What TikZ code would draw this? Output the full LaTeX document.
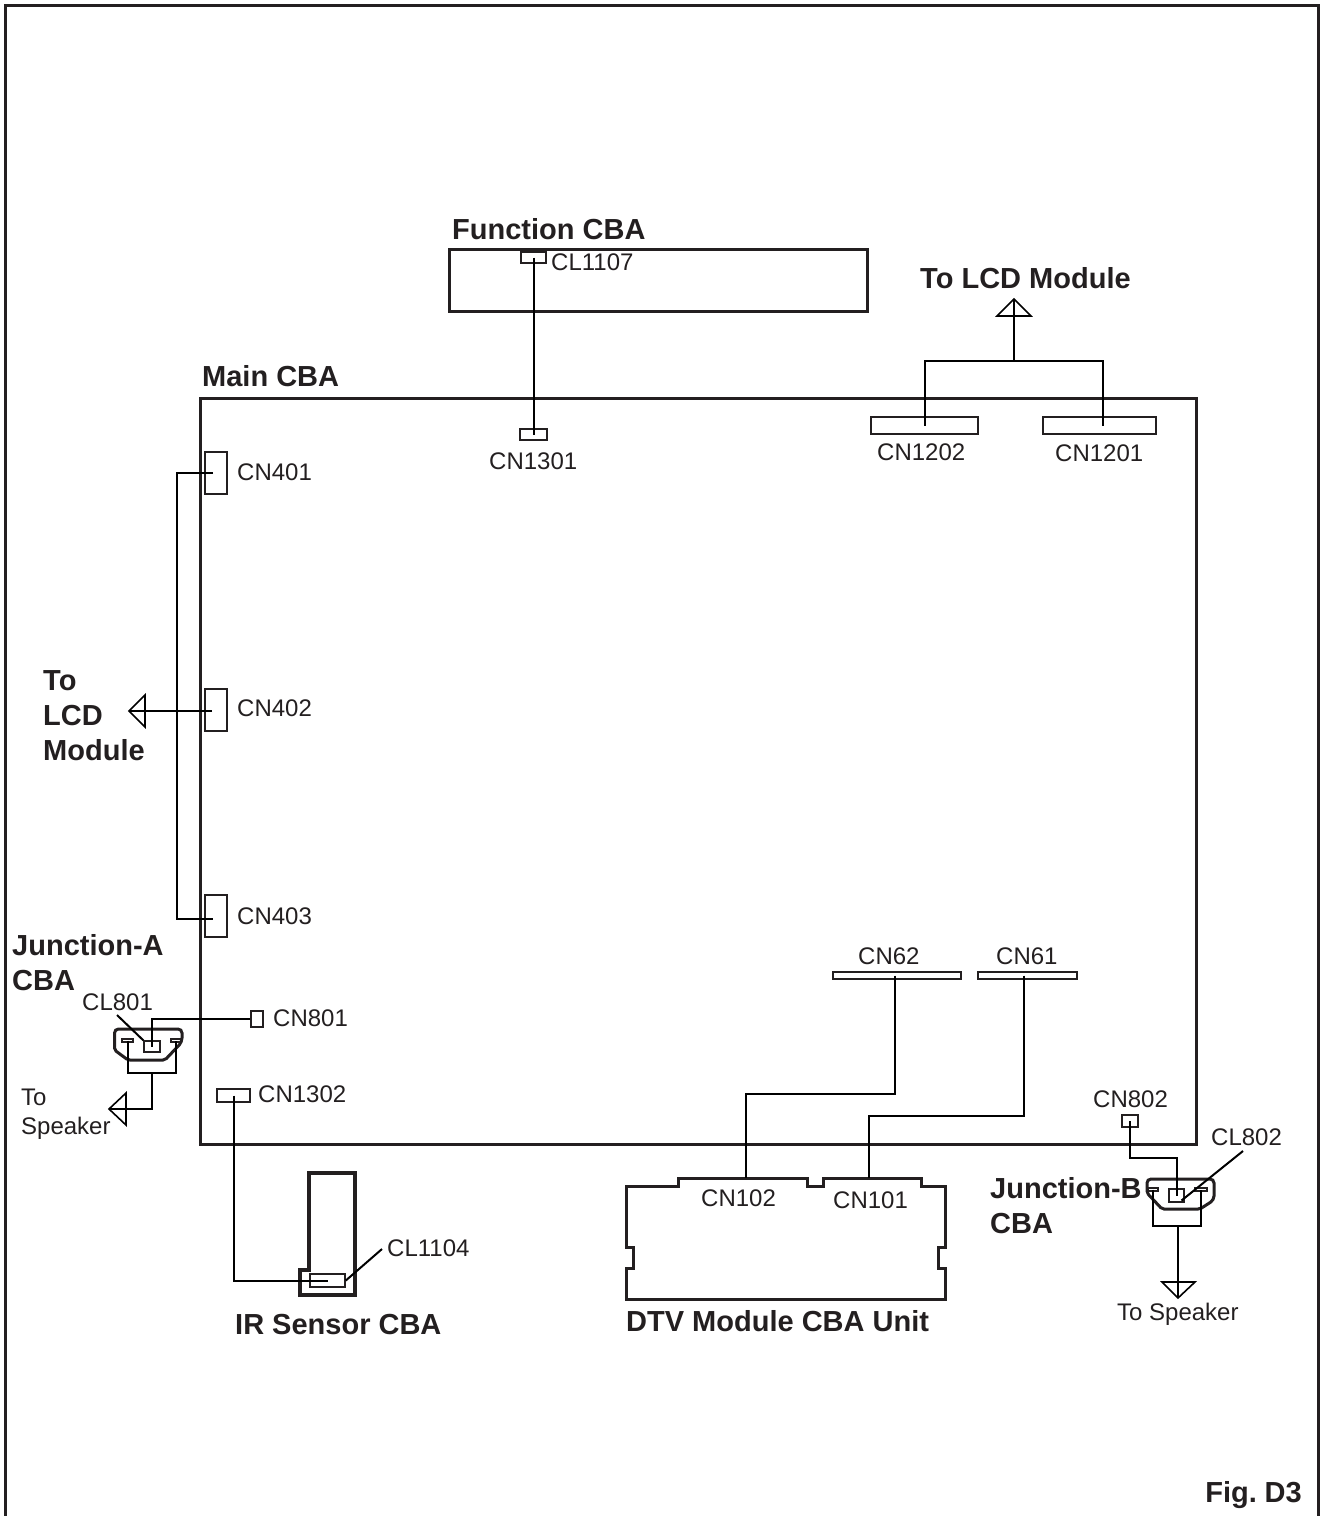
\documentclass[tikz,border=0pt]{standalone}
\usepackage{fontspec}
\setmainfont{Liberation Sans}
\definecolor{ink}{HTML}{231F20}
\tikzset{
  wire/.style = {black, line width = 2pt},
  opentip/.style = {black, line width = 1.6pt, line join = miter},
  outline/.style = {ink, line width = 3pt, line join = miter},
  board/.style = {draw = ink, line width = 3pt, inner sep = 0pt},
  conn/.style = {draw = ink, line width = 1.6pt, inner sep = 0pt},
  connbold/.style = {draw = ink, line width = 2.6pt, inner sep = 0pt},
  lbl/.style = {ink, inner sep = 0pt, anchor = west, text height = 17pt, text depth = 0pt, font = \fontsize{24}{24}\selectfont},
  title/.style = {ink, inner sep = 0pt, anchor = west, text height = 21pt, text depth = 0pt, font = \fontsize{29}{29}\bfseries\selectfont}
}
\begin{document}
  \begin{tikzpicture}[x = 1pt, y = -1pt]

    \useasboundingbox (0, 0) rectangle (1320, 1516);
    \draw[outline] (5.5, 1516) -- (5.5, 5.5) -- (1318, 5.5) -- (1318, 1516);

    \node[board, minimum width = 996pt, minimum height = 746pt] (maincba) at (698, 771) {};
    \node[board, minimum width = 418pt, minimum height = 62pt] (funccba) at (658, 280) {};

    \node[conn, minimum width = 25pt, minimum height = 11pt] (cl1107) at (533.5, 257.5) {};
    \node[conn, minimum width = 27pt, minimum height = 11pt] (cn1301) at (533.5, 434.5) {};
    \node[connbold, minimum width = 107pt, minimum height = 17pt] (cn1202) at (924.5, 425.5) {};
    \node[connbold, minimum width = 113pt, minimum height = 17pt] (cn1201) at (1099.5, 425.5) {};
    \node[conn, minimum width = 22pt, minimum height = 42pt] (cn401) at (216, 473) {};
    \node[conn, minimum width = 22pt, minimum height = 42pt] (cn402) at (216, 710) {};
    \node[conn, minimum width = 22pt, minimum height = 42pt] (cn403) at (216, 916) {};
    \node[conn, minimum width = 12pt, minimum height = 16pt] (cn801) at (257, 1019) {};
    \node[conn, minimum width = 33pt, minimum height = 13pt] (cn1302) at (233.5, 1095.5) {};
    \node[conn, minimum width = 128pt, minimum height = 7pt] (cn62) at (897, 975.5) {};
    \node[conn, minimum width = 99pt, minimum height = 7pt] (cn61) at (1027.5, 975.5) {};
    \node[conn, minimum width = 16pt, minimum height = 12pt] (cn802) at (1130, 1121) {};

    \node[title] (tfunc) at (452, 229) {Function CBA};
    \node[title] (tmain) at (202, 376) {Main CBA};
    \node[title] (tlcd) at (920, 278) {To LCD Module};
    \node[title] (tlcdto) at (43, 680) {To};
    \node[title] (tlcdmid) at (43, 715) {LCD};
    \node[title] (tlcdmod) at (43, 750) {Module};
    \node[title] (tja) at (12, 945) {Junction-A};
    \node[title] (tjacba) at (12, 980) {CBA};
    \node[title] (tjb) at (990, 1188) {Junction-B};
    \node[title] (tjbcba) at (990, 1223) {CBA};
    \node[title] (tir) at (235, 1324) {IR Sensor CBA};
    \node[title] (tdtv) at (626, 1321) {DTV Module CBA Unit};
    \node[title, anchor = east] (tfig) at (1302, 1492) {Fig.\kern-3pt{} D3};

    \node[lbl] (lcl1107) at (551, 262) {CL1107};
    \node[lbl] (lcn1301) at (489, 461) {CN1301};
    \node[lbl] (lcn1202) at (877, 452) {CN1202};
    \node[lbl] (lcn1201) at (1055, 453) {CN1201};
    \node[lbl] (lcn401) at (237, 472) {CN401};
    \node[lbl] (lcn402) at (237, 708) {CN402};
    \node[lbl] (lcn403) at (237, 916) {CN403};
    \node[lbl] (lcl801) at (82, 1002) {CL801};
    \node[lbl] (lcn801) at (273, 1018) {CN801};
    \node[lbl] (lcn1302) at (258, 1094) {CN1302};
    \node[lbl] (lto) at (21, 1097) {To};
    \node[lbl] (lspk) at (21, 1126) {Speaker};
    \node[lbl] (lcl1104) at (387, 1248) {CL1104};
    \node[lbl] (lcn62) at (858, 956) {CN62};
    \node[lbl] (lcn61) at (996, 956) {CN61};
    \node[lbl] (lcn102) at (701, 1198) {CN102};
    \node[lbl] (lcn101) at (833, 1200) {CN101};
    \node[lbl] (lcn802) at (1093, 1099) {CN802};
    \node[lbl] (lcl802) at (1211, 1137) {CL802};
    \node[lbl] (ltospk) at (1117, 1312) {To Speaker};

    \draw[wire] (cl1107.center) -- (cn1301.center);

    \coordinate (lcdjoin) at (1014, 361);
    \coordinate (lcdtip) at (1014, 299);
    \draw[wire] (cn1202.center) -- ++(0, -64.5) -| ([xshift = 3.5pt]cn1201.center);
    \draw[wire] (lcdjoin) -- (lcdtip);
    \draw[opentip] (lcdtip) -- +(-17, 17) -- +(17, 17) -- cycle;

    \coordinate (lcdbus) at (177, 700);
    \coordinate (lcdlefttip) at (129, 711);
    \draw[wire] ([xshift = -3pt]cn401.center) -| (lcdbus) |- ([xshift = -3pt, yshift = -3pt]cn403.center);
    \draw[wire] ([xshift = -4pt, yshift = -1pt]cn402.center) -- (lcdlefttip);
    \draw[opentip] (lcdlefttip) -- +(16, -16) -- +(16, 16) -- cycle;

    \draw[outline, rounded corners = 4pt] (114.5, 1040) -- (114.5, 1029) -- (182, 1029) -- (182, 1042) [rounded corners = 2pt] -- (165, 1060) -- (128, 1060) -- (114.5, 1050) -- cycle;
    \node[conn, line width = 1.2pt, minimum width = 16pt, minimum height = 11pt] (cl801) at (152, 1046.5) {};
    \node[conn, line width = 1.2pt, minimum width = 11pt, minimum height = 3pt] (japinl) at (127.5, 1040.5) {};
    \node[conn, line width = 1.2pt, minimum width = 10pt, minimum height = 3pt] (japinr) at (176, 1040.5) {};
    \coordinate (jajoin) at (152, 1073);
    \coordinate (jatip) at (109, 1109);
    \coordinate (jaleader) at (117, 1015);
    \draw[wire] (cl801.center) |- (cn801.west);
    \draw[wire] (jaleader) -- (cl801.north west);
    \draw[wire] (japinl.center) -- ++(0, 32.5) -| (japinr.center);
    \draw[wire] (jajoin) |- (jatip);
    \draw[opentip] (jatip) -- +(17, -16) -- +(17, 16) -- cycle;

    \draw[outline, line width = 4pt] (309, 1173) -- (355, 1173) -- (355, 1295) -- (300, 1295) -- (300, 1270) -- (309, 1270) -- cycle;
    \node[conn, minimum width = 35pt, minimum height = 13pt] (cl1104) at (327.5, 1280.5) {};
    \coordinate (irleader) at (382, 1249);
    \draw[wire] (cn1302.center) |- (cl1104.center);
    \draw[wire] (irleader) -- (cl1104.east);

    \draw[outline] (626, 1299) -- (626, 1268) -- (633, 1268) -- (633, 1247) -- (626, 1247) -- (626, 1186) -- (678, 1186) -- (678, 1178) -- (807, 1178) -- (807, 1186) -- (823, 1186) -- (823, 1178) -- (921, 1178) -- (921, 1186) -- (945, 1186) -- (945, 1247) -- (938, 1247) -- (938, 1268) -- (945, 1268) -- (945, 1299) -- cycle;
    \coordinate (cn102pin) at (746, 1178);
    \coordinate (cn101pin) at (869, 1178);
    \draw[wire] ([xshift = -2pt]cn62.center) -- ++(0, 118) -| (cn102pin);
    \draw[wire] ([xshift = -3.5pt]cn61.center) -- ++(0, 140.5) -| (cn101pin);

    \draw[outline, rounded corners = 4pt] (1147, 1187) -- (1147, 1179) -- (1214, 1179) -- (1214, 1200) [rounded corners = 2pt] -- (1200, 1209) -- (1162, 1209) -- (1147, 1193) -- cycle;
    \node[conn, line width = 1.2pt, minimum width = 15pt, minimum height = 13pt] (cl802) at (1176.5, 1195.5) {};
    \node[conn, line width = 1.2pt, minimum width = 10pt, minimum height = 3pt] (jbpinl) at (1153, 1189.5) {};
    \node[conn, line width = 1.2pt, minimum width = 12pt, minimum height = 3pt] (jbpinr) at (1201, 1189.5) {};
    \coordinate (jbjoin) at (1178, 1226);
    \coordinate (jbtip) at (1178, 1298);
    \coordinate (jbleader) at (1243, 1151);
    \draw[wire] (cn802.center) -- ++(0, 37) -| (cl802.center);
    \draw[wire] (jbleader) -- ([xshift = 5pt, yshift = -5pt]cl802.center);
    \draw[wire] (jbpinl.center) -- ++(0, 36.5) -| (jbpinr.center);
    \draw[wire] (jbjoin) -- (jbtip);
    \draw[opentip] (jbtip) -- +(-16, -16) -- +(17, -16) -- cycle;

  \end{tikzpicture}
\end{document}
